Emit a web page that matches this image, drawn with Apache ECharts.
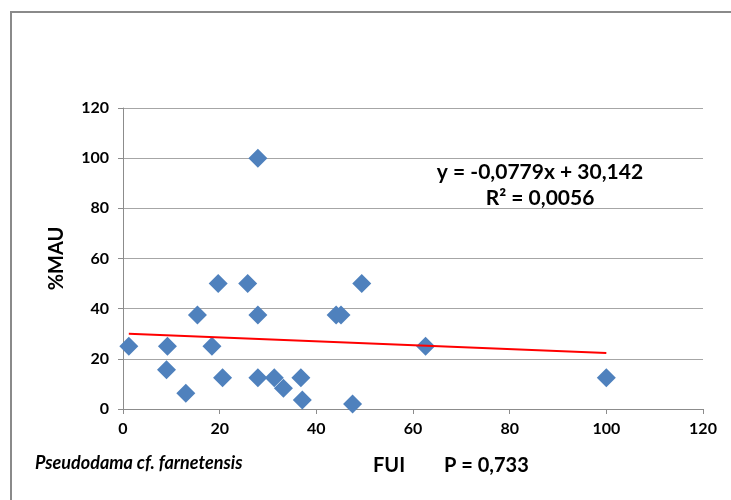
<!DOCTYPE html>
<html>
<head>
<meta charset="utf-8">
<script src="https://cdn.jsdelivr.net/npm/echarts@6/dist/echarts.min.js"></script>
<style>
  html, body { margin: 0; padding: 0; background: #ffffff; }
  #chart { width: 731px; height: 500px; }
</style>
</head>
<body>
<div id="chart"></div>
<script>
// FUI (x) against %MAU (y) for each skeletal element
const fui = [1.2, 27.9, 19.7, 25.8, 15.4, 27.9, 44.1, 45.1, 49.4, 9.2, 18.4, 9.0, 13.0, 20.6, 27.9, 31.3, 33.2, 36.8, 37.1, 47.5, 62.6, 100];
const mau = [25, 100, 50, 50, 37.5, 37.5, 37.5, 37.5, 50, 25, 25, 15.6, 6.25, 12.5, 12.5, 12.5, 8.3, 12.5, 3.6, 2, 25, 12.5];

// Linear trend as printed on the chart
const slope = [-0.0779];
const intercept = [30.142];
const equationLines = ['y = -0,0779x + 30,142', 'R² = 0,0056'];

const xTicks = [0, 20, 40, 60, 80, 100, 120];
const yTicks = [0, 20, 40, 60, 80, 100, 120];

const points = fui.map((x, i) => [x, mau[i]]);
const xMin = Math.min(...fui);
const xMax = Math.max(...fui);
const trend = [xMin, xMax].map(x => [x, intercept[0] + slope[0] * x]);

const FONT = 'Lato, "Open Sans", sans-serif';
const axisGray = '#8c8c8c';

const chart = echarts.init(document.getElementById('chart'), null, { renderer: 'canvas' });
chart.setOption({
  animation: false,
  backgroundColor: '#ffffff',
  grid: { left: 123, top: 108, width: 580, height: 301, containLabel: false },
  xAxis: {
    type: 'value',
    min: xTicks[0],
    max: xTicks[xTicks.length - 1],
    interval: xTicks[1] - xTicks[0],
    axisLine: { show: true, onZero: false, lineStyle: { color: axisGray, width: 1 } },
    axisTick: { show: true, inside: false, length: 5, lineStyle: { color: axisGray } },
    splitLine: { show: false },
    axisLabel: { margin: 12, color: '#000', fontFamily: FONT, fontWeight: 'bold', fontSize: 16 }
  },
  yAxis: {
    type: 'value',
    min: yTicks[0],
    max: yTicks[yTicks.length - 1],
    interval: yTicks[1] - yTicks[0],
    name: '%MAU',
    nameLocation: 'middle',
    nameRotate: 90,
    nameGap: 56,
    nameTextStyle: { color: '#000', fontFamily: FONT, fontWeight: 'bold', fontSize: 20 },
    axisLine: { show: true, lineStyle: { color: axisGray, width: 1 } },
    axisTick: { show: true, inside: false, length: 5, lineStyle: { color: axisGray } },
    splitLine: { show: true, lineStyle: { color: '#a6a6a6', width: 1 } },
    axisLabel: { margin: 14, color: '#000', fontFamily: FONT, fontWeight: 'bold', fontSize: 16 }
  },
  series: [
    {
      type: 'scatter',
      data: points,
      symbol: 'diamond',
      symbolSize: 19,
      itemStyle: { color: '#4f81bd', opacity: 1 },
      z: 2
    },
    {
      type: 'line',
      data: trend,
      symbol: 'none',
      lineStyle: { color: '#ff0000', width: 2 },
      z: 3
    }
  ],
  graphic: [
    {
      type: 'rect',
      silent: true,
      shape: { x: 11, y: 12, width: 760, height: 540 },
      style: { fill: null, stroke: '#8a8a8a', lineWidth: 2 }
    },
    {
      type: 'text', silent: true,
      x: 540, y: 172,
      style: { text: equationLines[0], textAlign: 'center', textVerticalAlign: 'middle',
               font: 'bold 21px ' + FONT, fill: '#000' }
    },
    {
      type: 'text', silent: true,
      x: 540, y: 198,
      style: { text: equationLines[1], textAlign: 'center', textVerticalAlign: 'middle',
               font: 'bold 21px ' + FONT, fill: '#000' }
    },
    {
      type: 'text', silent: true,
      x: 35, y: 463,
      style: { text: 'Pseudodama cf. farnetensis', textAlign: 'left', textVerticalAlign: 'middle',
               font: 'italic bold 18px ' + FONT, fill: '#000' }
    },
    {
      type: 'text', silent: true,
      x: 373, y: 466,
      style: { text: 'FUI        P = 0,733', textAlign: 'left', textVerticalAlign: 'middle',
               font: 'bold 20px ' + FONT, fill: '#000' }
    }
  ]
});
</script>
</body>
</html>
